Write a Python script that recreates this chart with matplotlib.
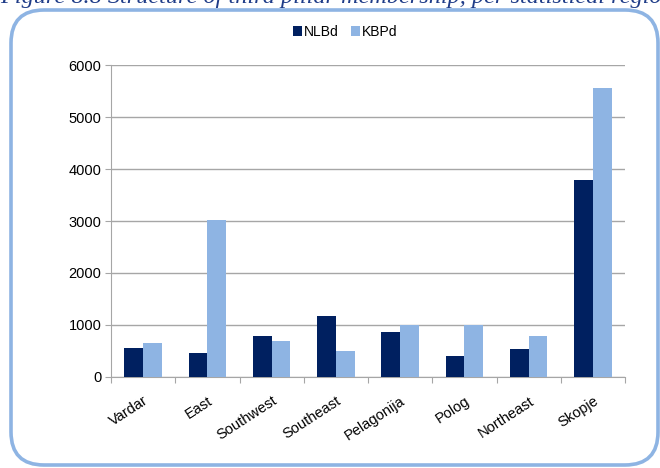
import matplotlib.pyplot as plt
from matplotlib.patches import FancyBboxPatch
import numpy as np

plt.rcParams['font.family'] = ['Liberation Sans', 'DejaVu Sans']

regions = ["Vardar", "East", "Southwest", "Southeast", "Pelagonija",
           "Polog", "Northeast", "Skopje"]
nlbd = [555, 455, 790, 1170, 860, 410, 535, 3790]
kbpd = [650, 3010, 690, 500, 1000, 1000, 790, 5550]
yticks = [0, 1000, 2000, 3000, 4000, 5000, 6000]

dark = "#002060"
light = "#8EB4E3"

fig = plt.figure(figsize=(6.6, 4.68), dpi=100)

# rounded frame around the chart
W, H = 660, 468
frame = FancyBboxPatch((11 / W, 3 / H), (W - 13) / W, (H - 13) / H,
                       boxstyle="round,pad=0,rounding_size=0.05",
                       transform=fig.transFigure, fill=False,
                       edgecolor=light, linewidth=2.6, mutation_aspect=W / H)
fig.add_artist(frame)

# caption, mostly above the top edge as in the source page
fig.text(0.0, 1 - 3 / H, "Figure 8.8 Structure of third pillar membership, per statistical regions",
         fontsize=17.5, style='italic', family=['Liberation Serif', 'DejaVu Serif'],
         color="#1F3C88", va='baseline', ha='left')

ax = fig.add_axes([111 / W, 1 - 377 / H, 514 / W, 312 / H])
x = np.arange(len(regions))
w = 0.29
ax.bar(x - w / 2, nlbd, w, color=dark, label="NLBd", zorder=3)
ax.bar(x + w / 2, kbpd, w, color=light, label="KBPd", zorder=3)

ax.set_xlim(-0.5, len(regions) - 0.5)
ax.set_ylim(0, 6000)
ax.set_yticks(yticks)
ax.yaxis.grid(True, color="#A6A6A6", linewidth=1, zorder=0)
ax.tick_params(axis='y', length=4, color="#A6A6A6", labelsize=10.5, pad=3)

ax.set_xticks(np.arange(len(regions) + 1) - 0.5)
ax.set_xticklabels([])
ax.tick_params(axis='x', which='major', length=4, color="#A6A6A6")
ax.set_xticks(x, minor=True)
ax.set_xticklabels(regions, minor=True, rotation=33, ha='right',
                   rotation_mode='anchor', fontsize=10.5)
ax.tick_params(axis='x', which='minor', length=0, pad=12)

for s in ['top', 'right']:
    ax.spines[s].set_visible(False)
for s in ['left', 'bottom']:
    ax.spines[s].set_color("#A6A6A6")

fig.legend(loc='center', bbox_to_anchor=(0.523, 1 - 32 / H), ncol=2,
           frameon=False, fontsize=10, handlelength=0.65, handleheight=0.65,
           handletextpad=0.15, columnspacing=0.9)

fig.savefig("out.png", dpi=100)
